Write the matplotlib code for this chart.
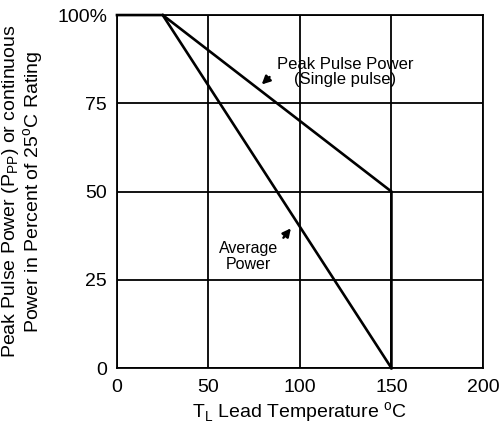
import matplotlib
matplotlib.use("Agg")
import matplotlib.pyplot as plt

plt.rcParams['font.family'] = ['Liberation Sans', 'DejaVu Sans']

# Data
peak_temp = [0, 25, 150, 150]
peak_pct = [100, 100, 50, 0]
avg_temp = [25, 150]
avg_pct = [100, 0]
x_ticks = [0, 50, 100, 150, 200]
y_ticks = [0, 25, 50, 75, 100]
y_ticklabels = ["0", "25", "50", "75", "100%"]

fig = plt.figure(figsize=(5.02, 4.30), dpi=100)
ax = fig.add_axes([0.233, 0.144, 0.729, 0.821])

ax.set_xlim(0, 200)
ax.set_ylim(0, 100)
ax.set_xticks(x_ticks)
ax.set_yticks(y_ticks)
ax.set_yticklabels(y_ticklabels)
ax.tick_params(length=0, labelsize=14, colors='black')
ax.tick_params(axis='y', pad=7)
ax.tick_params(axis='x', pad=8)
ax.grid(True, color='black', lw=1.3)
for s in ax.spines.values():
    s.set_linewidth(1.3)
    s.set_color('black')

ax.plot(peak_temp, peak_pct, color='black', lw=1.9, solid_joinstyle='miter', clip_on=False, zorder=3)
ax.plot(avg_temp, avg_pct, color='black', lw=1.9, clip_on=False, zorder=3)

ax.text(124.5, 84, "Peak Pulse Power\n(Single pulse)", ha='center', va='center',
        fontsize=12, linespacing=1.0)
ax.annotate("", xy=(78.0, 79.8), xytext=(84.5, 83.0),
            arrowprops=dict(arrowstyle='-|>', color='black', lw=1.7, mutation_scale=12))
ax.text(72, 31.5, "Average\nPower", ha='center', va='center', fontsize=11.5, linespacing=1.1)
ax.annotate("", xy=(96, 40.2), xytext=(90.0, 36.3),
            arrowprops=dict(arrowstyle='-|>', color='black', lw=1.7, mutation_scale=12))

ax.set_xlabel(r"T$_\mathregular{L}$ Lead Temperature $^\mathregular{o}$C", fontsize=14, labelpad=3)
ax.set_ylabel("Peak Pulse Power (P$_\\mathregular{PP}$) or continuous\nPower in Percent of 25$^\\mathregular{o}$C Rating",
              fontsize=14, labelpad=8, linespacing=1.0)

fig.savefig("out.png", dpi=100)
